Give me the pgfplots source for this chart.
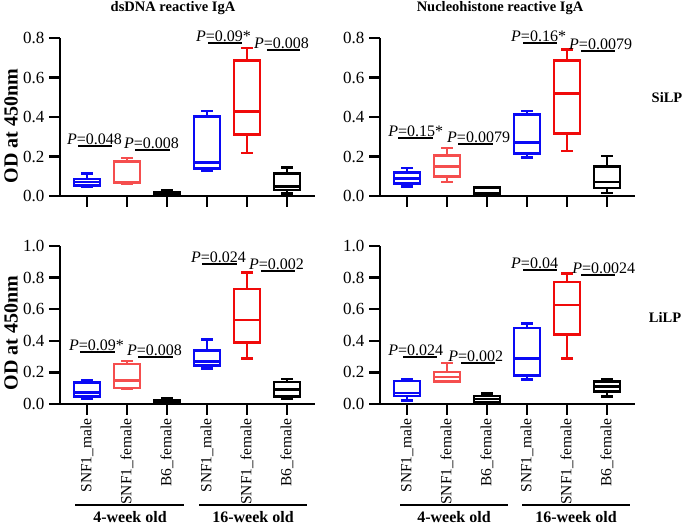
\documentclass[border=0pt]{standalone}
\usepackage{pgfplots}
\pgfplotsset{compat=1.18}
\usepgfplotslibrary{statistics}
\usepackage{fontspec}
\setmainfont{Liberation Serif}
\definecolor{lred}{RGB}{245,78,78}
\definecolor{bblue}{RGB}{10,10,245}
\definecolor{rred}{RGB}{240,10,10}
\pgfplotsset{
 panel/.style={scale only axis, width=255pt, height=158pt, xmin=-0.675, xmax=5.7, ymin=0,
   axis x line*=bottom, axis y line*=left, axis line style={line width=2.8pt, black},
   tick align=outside, major tick length=11pt, tick style={line width=2.4pt,black},
   xtick={0,...,5},
   /pgf/number format/assume math mode=true,
   yticklabel style={font=\fontsize{17}{17}\selectfont, xshift=-1pt, /pgf/number format/fixed, /pgf/number format/fixed zerofill, /pgf/number format/precision=1},
   xticklabel style={font=\fontsize{15.5}{15.5}\selectfont, rotate=90, anchor=east},
   clip=false,
   boxplot/draw direction=y,
   boxplot/every box/.style={line width=2.6pt},
   boxplot/every whisker/.style={line width=2.6pt},
   boxplot/every median/.style={line width=2.6pt},
 }
}
\newcommand{\bx}[7]{\addplot[draw=#1, line width=2.6pt, boxplot prepared={draw position=#2, lower whisker=#3, lower quartile=#4, median=#5, upper quartile=#6, upper whisker=#7, box extend=0.65, whisker extend=0.28}] coordinates {};}
\newcommand{\pv}[5]{\node[anchor=base west, inner sep=0pt, yshift=1.5pt, font=\fontsize{16}{16}\selectfont] at (axis cs:#1,#2) {\textit{P}=#5};
 \draw[line width=1.9pt] (axis cs:#3,#2) -- (axis cs:#4,#2);}
\begin{document}
\begin{tikzpicture}[x=1pt,y=1pt]
\useasboundingbox (0,0) rectangle (685,526);
% top-left
\begin{axis}[panel, at={(60pt,330pt)}, anchor=south west, ymax=0.8, ytick={0,0.2,0.4,0.6,0.8}, xticklabels={}]
\bx{bblue}{0}{0.047}{0.052}{0.07}{0.086}{0.113}
\bx{lred}{1}{0.062}{0.065}{0.07}{0.176}{0.192}
\bx{black}{2}{0.0}{0.005}{0.01}{0.017}{0.027}
\bx{bblue}{3}{0.127}{0.14}{0.171}{0.403}{0.431}
\bx{rred}{4}{0.217}{0.31}{0.428}{0.687}{0.749}
\bx{black}{5}{0.013}{0.03}{0.047}{0.115}{0.144}
\pv{-0.5}{0.255}{-0.225}{0.625}{0.048}
\pv{0.92}{0.233}{1.2}{2.075}{0.008}
\pv{2.72}{0.775}{3.025}{3.875}{0.09*}
\pv{4.17}{0.741}{4.5}{5.325}{0.008}
\end{axis}
% top-right
\begin{axis}[panel, at={(380pt,330pt)}, anchor=south west, ymax=0.8, ytick={0,0.2,0.4,0.6,0.8}, xticklabels={}]
\bx{bblue}{0}{0.047}{0.064}{0.09}{0.118}{0.141}
\bx{lred}{1}{0.07}{0.1}{0.148}{0.206}{0.243}
\bx{black}{2}{0.005}{0.012}{0.014}{0.042}{0.044}
\bx{bblue}{3}{0.194}{0.216}{0.27}{0.414}{0.431}
\bx{rred}{4}{0.228}{0.315}{0.518}{0.687}{0.741}
\bx{black}{5}{0.015}{0.04}{0.07}{0.15}{0.203}
\pv{-0.47}{0.293}{-0.22}{0.66}{0.15*}
\pv{1.0}{0.262}{1.28}{2.16}{0.0079}
\pv{2.6}{0.775}{2.91}{3.76}{0.16*}
\pv{4.05}{0.732}{4.36}{5.21}{0.0079}
\end{axis}
% bottom-left
\begin{axis}[panel, at={(60pt,122pt)}, anchor=south west, ymax=1.0, ytick={0,0.2,0.4,0.6,0.8,1.0},
  xticklabels={SNF1\_male,SNF1\_female,B6\_female,SNF1\_male,SNF1\_female,B6\_female}]
\bx{bblue}{0}{0.032}{0.049}{0.074}{0.137}{0.148}
\bx{lred}{1}{0.097}{0.1}{0.15}{0.254}{0.273}
\bx{black}{2}{0.0}{0.006}{0.012}{0.021}{0.038}
\bx{bblue}{3}{0.224}{0.243}{0.27}{0.338}{0.408}
\bx{rred}{4}{0.288}{0.391}{0.531}{0.729}{0.831}
\bx{black}{5}{0.034}{0.049}{0.091}{0.14}{0.159}
\pv{-0.45}{0.328}{-0.175}{0.7}{0.09*}
\pv{1.0}{0.298}{1.28}{2.15}{0.008}
\pv{2.6}{0.884}{2.88}{3.75}{0.024}
\pv{4.05}{0.841}{4.35}{5.2}{0.002}
\end{axis}
% bottom-right
\begin{axis}[panel, at={(380pt,122pt)}, anchor=south west, ymax=1.0, ytick={0,0.2,0.4,0.6,0.8,1.0},
  xticklabels={SNF1\_male,SNF1\_female,B6\_female,SNF1\_male,SNF1\_female,B6\_female}]
\bx{bblue}{0}{0.023}{0.05}{0.07}{0.146}{0.158}
\bx{lred}{1}{0.141}{0.143}{0.17}{0.202}{0.26}
\bx{black}{2}{0.003}{0.012}{0.032}{0.05}{0.068}
\bx{bblue}{3}{0.154}{0.179}{0.288}{0.48}{0.509}
\bx{rred}{4}{0.288}{0.438}{0.627}{0.773}{0.827}
\bx{black}{5}{0.048}{0.08}{0.11}{0.141}{0.158}
\pv{-0.47}{0.299}{-0.09}{0.76}{0.024}
\pv{1.03}{0.257}{1.36}{2.21}{0.002}
\pv{2.6}{0.846}{2.91}{3.76}{0.04}
\pv{4.13}{0.815}{4.36}{5.21}{0.0024}
\end{axis}
% titles and labels
\node[font=\bfseries\fontsize{14.5}{14.5}\selectfont] at (173,518) {dsDNA reactive IgA};
\node[font=\bfseries\fontsize{14.5}{14.5}\selectfont] at (500,518) {Nucleohistone reactive IgA};
\node[font=\bfseries\fontsize{20}{20}\selectfont, rotate=90] at (11,400) {OD at 450nm};
\node[font=\bfseries\fontsize{20}{20}\selectfont, rotate=90] at (11,193) {OD at 450nm};
\node[font=\bfseries\fontsize{14.5}{14.5}\selectfont] at (667,428) {SiLP};
\node[font=\bfseries\fontsize{14.5}{14.5}\selectfont] at (665,209) {LiLP};
\draw[line width=1.9pt] (75,21) -- (184,21);
\draw[line width=1.9pt] (199,21) -- (307,21);
\draw[line width=1.9pt] (400,21) -- (508,21);
\draw[line width=1.9pt] (522,21) -- (630,21);
\node[font=\bfseries\fontsize{16}{16}\selectfont] at (130,8.5) {4-week old};
\node[font=\bfseries\fontsize{16}{16}\selectfont] at (253,8.5) {16-week old};
\node[font=\bfseries\fontsize{16}{16}\selectfont] at (454,8.5) {4-week old};
\node[font=\bfseries\fontsize{16}{16}\selectfont] at (576,8.5) {16-week old};
\end{tikzpicture}
\end{document}
